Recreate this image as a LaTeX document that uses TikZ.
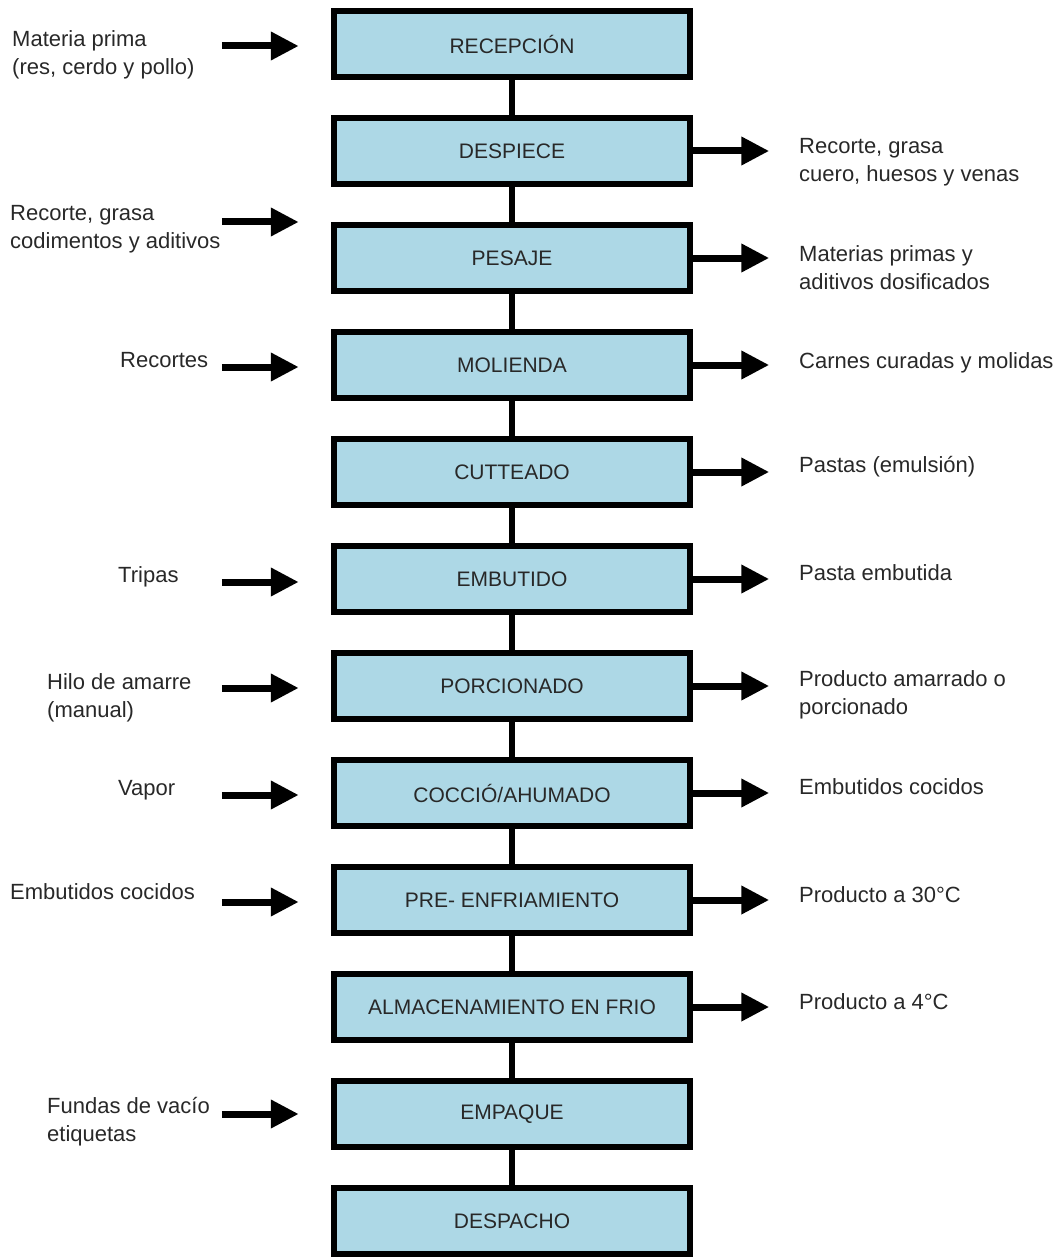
\documentclass[tikz,border=0pt]{standalone}
\usepackage{fontspec}
\setmainfont{Liberation Sans}
\usetikzlibrary{arrows.meta, calc}
\definecolor{stepblue}{RGB}{173,216,230}
\definecolor{txtgray}{RGB}{40,40,40}

\begin{document}
\begin{tikzpicture}[
    x=1pt, y=-1pt,
    box/.style={draw,fill=stepblue,line width=6.5pt,minimum width=356pt,
                minimum height=66pt,inner sep=0pt,text=txtgray,
                font=\fontsize{21}{23}\selectfont},
    arr/.style={-{Triangle[length=28pt,width=27pt]},line width=7pt},
    link/.style={line width=6pt},
    lbl/.style={font=\fontsize{22}{28}\selectfont,text=txtgray,
                align=left,inner sep=0pt}
]
  \useasboundingbox (0,0) rectangle (1060,1257);

  % Process steps
  \node[box] (rec)   at (512,44)   {RECEPCIÓN};
  \node[box] (despi) at (512,151)  {DESPIECE};
  \node[box] (pes)   at (512,258)  {PESAJE};
  \node[box] (mol)   at (512,365)  {MOLIENDA};
  \node[box] (cut)   at (512,472)  {CUTTEADO};
  \node[box] (emb)   at (512,579)  {EMBUTIDO};
  \node[box] (por)   at (512,686)  {PORCIONADO};
  \node[box] (coc)   at (512,793)  {COCCIÓ/AHUMADO};
  \node[box] (pre)   at (512,900)  {PRE- ENFRIAMIENTO};
  \node[box] (alm)   at (512,1007) {ALMACENAMIENTO EN FRIO};
  \node[box] (empq)  at (512,1114) {EMPAQUE};
  \node[box] (despa) at (512,1221) {DESPACHO};

  % Flow line
  \foreach \a/\b in {rec/despi,despi/pes,pes/mol,mol/cut,cut/emb,emb/por,
                     por/coc,coc/pre,pre/alm,alm/empq,empq/despa}
    \draw[link] (\a.south) -- (\b.north);

  % Inputs
  \node[lbl,anchor=west]      (inRec) at (12,55)    {Materia prima\\(res, cerdo y pollo)};
  \node[lbl,anchor=west]      (inPes) at (10,229)   {Recorte, grasa\\codimentos y aditivos};
  \node[lbl,anchor=base west] (inMol) at (120,367)  {Recortes};
  \node[lbl,anchor=base west] (inEmb) at (118,582)  {Tripas};
  \node[lbl,anchor=west]      (inPor) at (47,698)   {Hilo de amarre\\(manual)};
  \node[lbl,anchor=base west] (inCoc) at (118,795)  {Vapor};
  \node[lbl,anchor=base west] (inPre) at (10,899)   {Embutidos cocidos};
  \node[lbl,anchor=west]      (inEmp) at (47,1122)  {Fundas de vacío\\etiquetas};

  \draw[arr] ($(rec.west)+(-109,2)$) -- ++(77,0);
  \draw[arr] ($(pes.west)+(-109,-36)$) -- ++(77,0);
  \draw[arr] ($(mol.west)+(-109,2)$) -- ++(77,0);
  \draw[arr] ($(emb.west)+(-109,3)$) -- ++(77,0);
  \draw[arr] ($(por.west)+(-109,2)$) -- ++(77,0);
  \draw[arr] ($(coc.west)+(-109,2)$) -- ++(77,0);
  \draw[arr] ($(pre.west)+(-109,2)$) -- ++(77,0);
  \draw[arr] ($(empq.west)+(-109,0)$) -- ++(77,0);

  % Outputs
  \node[lbl,anchor=west]      (outDespi) at (799,162)  {Recorte, grasa\\cuero, huesos y venas};
  \node[lbl,anchor=west]      (outPes)   at (799,268)  {Materias primas y\\aditivos dosificados};
  \node[lbl,anchor=base west] (outMol)   at (799,368)  {Carnes curadas y molidas};
  \node[lbl,anchor=base west] (outCut)   at (799,472)  {Pastas (emulsión)};
  \node[lbl,anchor=base west] (outEmb)   at (799,580)  {Pasta embutida};
  \node[lbl,anchor=west]      (outPor)   at (799,695)  {Producto amarrado o\\porcionado};
  \node[lbl,anchor=base west] (outCoc)   at (799,794)  {Embutidos cocidos};
  \node[lbl,anchor=base west] (outPre)   at (799,902)  {Producto a 30°C};
  \node[lbl,anchor=base west] (outAlm)   at (799,1009) {Producto a 4°C};

  \foreach \s in {despi,pes,mol,cut,emb,por,coc,pre,alm}
    \draw[arr] (\s.east) -- ++(76,0);
\end{tikzpicture}
\end{document}
